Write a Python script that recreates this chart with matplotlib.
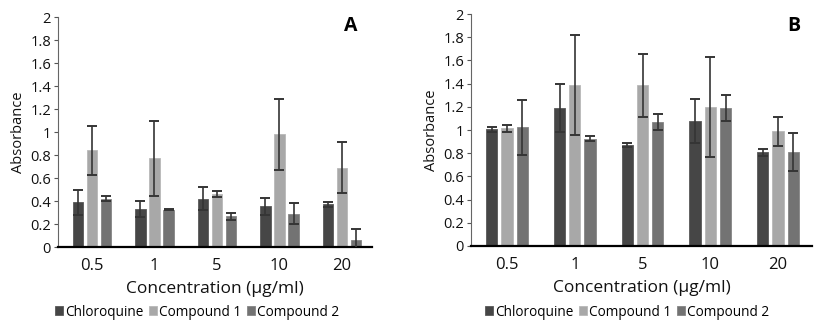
import matplotlib
matplotlib.use("Agg")
import matplotlib.pyplot as plt
import numpy as np

plt.rcParams['font.family'] = ['Open Sans', 'DejaVu Sans']

categories = ["0.5", "1", "5", "10", "20"]
series_names = ["Chloroquine", "Compound 1", "Compound 2"]

# Panel A
a_chloroquine = [0.39, 0.33, 0.42, 0.355, 0.37]
a_chloroquine_err = [0.11, 0.07, 0.10, 0.075, 0.02]
a_compound1 = [0.84, 0.77, 0.46, 0.98, 0.69]
a_compound1_err = [0.21, 0.33, 0.025, 0.31, 0.22]
a_compound2 = [0.42, 0.325, 0.267, 0.29, 0.06]
a_compound2_err = [0.02, 0.004, 0.03, 0.09, 0.10]

# Panel B
b_chloroquine = [1.005, 1.19, 0.87, 1.075, 0.807]
b_chloroquine_err = [0.025, 0.21, 0.02, 0.19, 0.03]
b_compound1 = [1.017, 1.386, 1.386, 1.199, 0.991]
b_compound1_err = [0.03, 0.43, 0.27, 0.43, 0.125]
b_compound2 = [1.023, 0.925, 1.069, 1.19, 0.81]
b_compound2_err = [0.235, 0.023, 0.065, 0.11, 0.165]

yticks = [0, 0.2, 0.4, 0.6, 0.8, 1.0, 1.2, 1.4, 1.6, 1.8, 2.0]
ytick_labels = ["0", "0.2", "0.4", "0.6", "0.8", "1", "1.2", "1.4", "1.6", "1.8", "2"]

colors = ["#464646", "#a8a8a8", "#737373"]
edges = ["#585858", "#b8b8b8", "#858585"]
err_color = "#353535"

fig = plt.figure(figsize=(8.25, 3.29), dpi=100)

panels = [
    ("A", [0.0703, 0.2492, 0.3806, 0.699], (-0.544, 4.48),
     [a_chloroquine, a_compound1, a_compound2],
     [a_chloroquine_err, a_compound1_err, a_compound2_err],
     (351 / 825, 1 - 26 / 329), (197 / 825, 1 - 312 / 329)),
    ("B", [0.5709, 0.2523, 0.4133, 0.705], (-0.531, 4.50),
     [b_chloroquine, b_compound1, b_compound2],
     [b_chloroquine_err, b_compound1_err, b_compound2_err],
     (794 / 825, 1 - 26 / 329), (627 / 825, 1 - 312 / 329)),
]

x = np.arange(len(categories))
width = 1 / 6
offset = 0.225

for label, rect, xlim, vals, errs, lab_pos, leg_pos in panels:
    ax = fig.add_axes(rect)
    handles = []
    for i in range(3):
        h = ax.bar(x + (i - 1) * offset, vals[i], width, color=colors[i],
                   edgecolor=edges[i], linewidth=0.6, label=series_names[i], zorder=2)
        ax.errorbar(x + (i - 1) * offset, vals[i], yerr=errs[i], fmt='none',
                    ecolor=err_color, elinewidth=1.2, capsize=3.8, capthick=1.4, zorder=3)
        handles.append(h)
    ax.set_xlim(*xlim)
    ax.set_ylim(0, 2)
    ax.set_yticks(yticks)
    ax.set_yticklabels(ytick_labels, fontsize=10.5, color="#111111")
    ax.set_xticks(x)
    ax.set_xticklabels(categories, fontsize=12, color="#111111")
    ax.tick_params(axis='x', length=0, pad=8)
    ax.tick_params(axis='y', length=3, width=0.8, color="#555555", pad=2)
    for s in ['top', 'right']:
        ax.spines[s].set_visible(False)
    ax.spines['left'].set_color("#666666")
    ax.spines['left'].set_linewidth(0.8)
    ax.spines['bottom'].set_color("#000000")
    ax.spines['bottom'].set_linewidth(1.6)
    ax.set_ylabel("Absorbance", fontsize=10.5, color="#111111", labelpad=3)
    ax.set_xlabel("Concentration (µg/ml)", fontsize=12.5, color="#111111", labelpad=5)
    fig.text(lab_pos[0], lab_pos[1], label, fontsize=14, fontweight='bold',
             ha='center', va='center', color="#000000")
    fig.legend(handles=handles, labels=series_names, loc='center',
               bbox_to_anchor=leg_pos, ncol=3, frameon=False, fontsize=9.8,
               handlelength=0.6, handleheight=0.6, handletextpad=0.15,
               columnspacing=0.4, borderpad=0)

fig.savefig("out.png", dpi=100)
